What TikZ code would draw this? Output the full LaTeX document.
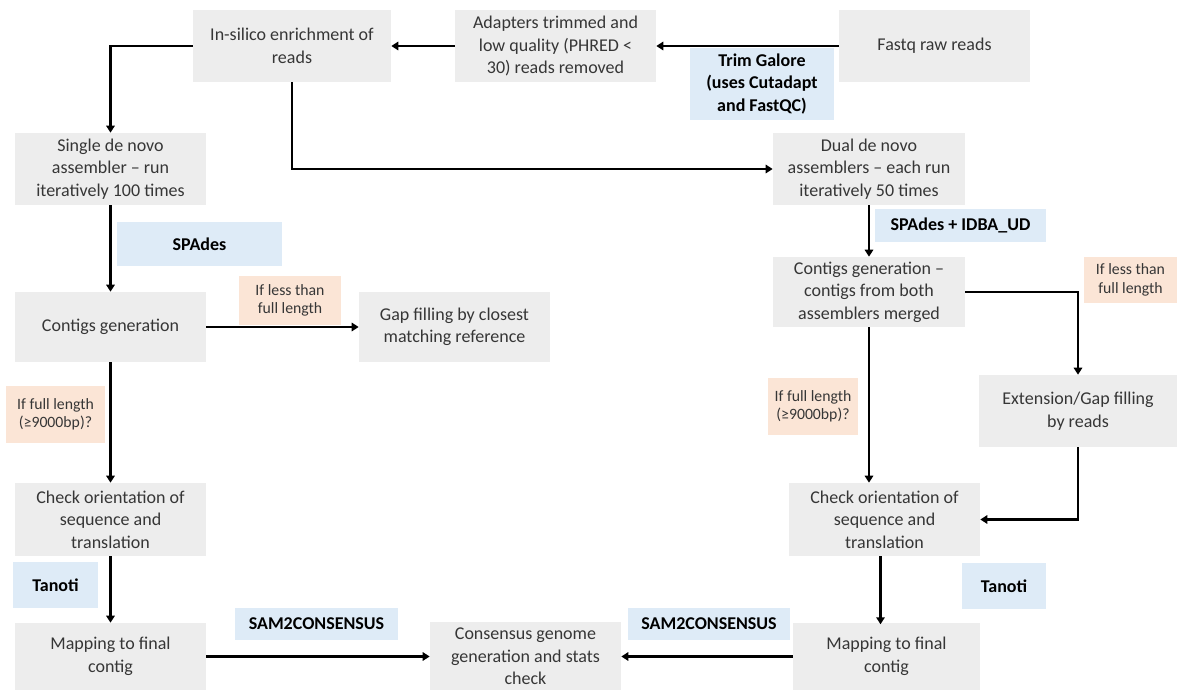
\documentclass[tikz,border=0pt]{standalone}
\usepackage{fontspec}
\setmainfont{Carlito}
\usetikzlibrary{arrows.meta}
\definecolor{boxgrey}{HTML}{EDEDED}
\definecolor{toolblue}{HTML}{DEEBF7}
\definecolor{condpeach}{HTML}{FBE5D6}
\definecolor{txtgrey}{HTML}{363636}
\begin{document}
\begin{tikzpicture}[x=0.025cm,y=-0.025cm,
    procbox/.style={fill=boxgrey, text=txtgrey, align=center, inner sep=0pt,
      minimum width=4.775cm, minimum height=1.8cm, font=\fontsize{12.8}{16}\selectfont},
    toolbox/.style={fill=toolblue, text=black, align=center, inner sep=0pt,
      font=\fontsize{12.8}{16}\selectfont\bfseries},
    condbox/.style={fill=condpeach, text=txtgrey, align=center, inner sep=0pt,
      font=\fontsize{11.2}{13}\selectfont},
    arr/.style={-{Triangle[length=5pt,width=6pt]}, line width=1.6pt}]
    \useasboundingbox (0,0) rectangle (1179,690);

    % top row
    \node[procbox, minimum width=4.95cm] (insilico) at (292,46) {In-silico enrichment of\\reads};
    \node[procbox, minimum width=5.025cm] (adapt) at (555.5,46) {Adapters trimmed and\\low quality (PHRED <\\30) reads removed};
    \node[procbox] (fastq) at (934.5,46) {Fastq raw reads};
    \node[toolbox, minimum width=3.6cm, minimum height=1.8cm] (trim) at (762,84) {Trim Galore\\(uses Cutadapt\\and FastQC)};

    % left branch
    \node[procbox] (single) at (110.5,169) {Single de novo\\assembler -- run\\iteratively 100 times};
    \node[toolbox, minimum width=4.125cm, minimum height=1.1cm] (spadesL) at (199.5,244) {SPAdes};
    \node[procbox, minimum height=1.75cm] (contigsL) at (110.5,327) {Contigs generation};
    \node[condbox, minimum width=2.55cm, minimum height=1.225cm] (lessL) at (290,300.5) {If less than\\full length};
    \node[procbox, minimum height=1.75cm] (gapL) at (454.5,327) {Gap filling by closest\\matching reference};
    \node[condbox, minimum width=2.475cm, minimum height=1.425cm] (fullL) at (55.5,414.5) {If full length\\(≥9000bp)?};
    \node[procbox, minimum height=1.825cm] (checkL) at (110.5,519.5) {Check orientation of\\sequence and\\translation};
    \node[toolbox, minimum width=2.125cm, minimum height=1.15cm] (tanotiL) at (55.5,585) {Tanoti};
    \node[procbox, minimum height=1.675cm] (mapL) at (110.5,656.5) {Mapping to final\\contig};
    \node[toolbox, minimum width=4.075cm, minimum height=0.8cm] (samL) at (316.5,624) {SAM2CONSENSUS};

    % right branch
    \node[procbox, minimum width=4.8cm] (dual) at (869,169) {Dual de novo\\assemblers -- each run\\iteratively 50 times};
    \node[toolbox, minimum width=4.275cm, minimum height=0.825cm] (spadesR) at (960.5,225.5) {SPAdes + IDBA\_UD};
    \node[procbox, minimum width=4.8cm, minimum height=1.75cm] (contigsR) at (869,292) {Contigs generation --\\contigs from both\\assemblers merged};
    \node[condbox, minimum width=2.325cm, minimum height=1.15cm] (lessR) at (1130.5,280) {If less than\\full length};
    \node[procbox, minimum width=4.95cm] (ext) at (1078,411) {Extension/Gap filling\\by reads};
    \node[condbox, minimum width=2.25cm, minimum height=1.425cm] (fullR) at (813,406.5) {If full length\\(≥9000bp)?};
    \node[procbox, minimum height=1.825cm] (checkR) at (884.5,519.5) {Check orientation of\\sequence and\\translation};
    \node[toolbox, minimum width=2.1cm, minimum height=1.15cm] (tanotiR) at (1004,586) {Tanoti};
    \node[procbox, minimum width=4.675cm, minimum height=1.675cm] (mapR) at (886.5,656.5) {Mapping to final\\contig};
    \node[toolbox, minimum width=4.05cm, minimum height=0.8cm] (samR) at (709,624) {SAM2CONSENSUS};

    % bottom
    \node[procbox, minimum height=1.7cm] (cons) at (525.5,656.5) {Consensus genome\\generation and stats\\check};

    % connectors
    \draw[arr] (fastq) -- (adapt);
    \draw[arr] (adapt) -- (insilico);
    \draw[arr] (insilico.west) -| (single.north);
    \draw[arr] (insilico.south) |- (dual.west);
    \draw[arr] (single) -- (contigsL);
    \draw[arr] (contigsL) -- (gapL);
    \draw[arr] (contigsL) -- (checkL);
    \draw[arr] (checkL) -- (mapL);
    \draw[arr] (mapL) -- (cons);
    \draw[arr] (dual) -- (contigsR);
    \draw[arr] (contigsR.east) -| (ext.north);
    \draw[arr] (contigsR.south) -- (contigsR.south |- checkR.north);
    \draw[arr] (ext.south) |- (checkR.east);
    \draw[arr] (checkR.south) ++(-4,0) -- ++(0,68);
    \draw[arr] (mapR) -- (cons);
\end{tikzpicture}
\end{document}
